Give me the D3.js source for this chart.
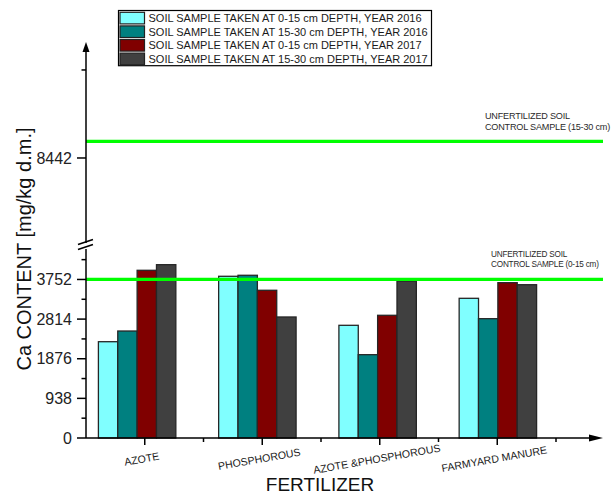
<!DOCTYPE html>
<html>
<head>
<meta charset="utf-8">
<script src="https://cdn.jsdelivr.net/npm/d3@7"></script>
<style>
  html, body { margin: 0; padding: 0; background: #fff; }
  svg { display: block; font-family: "Liberation Sans", Arial, sans-serif; }
</style>
</head>
<body>
<svg id="chart" width="616" height="495"></svg>
<script>
// Fertilizer treatments along the x axis
const categories = ["AZOTE", "PHOSPHOROUS", "AZOTE &PHOSPHOROUS", "FARMYARD MANURE"];

// Ca content [mg/kg d.m.] per series, one value per treatment
const series = [
  "SOIL SAMPLE TAKEN AT 0-15 cm DEPTH, YEAR 2016",
  "SOIL SAMPLE TAKEN AT 15-30 cm DEPTH, YEAR 2016",
  "SOIL SAMPLE TAKEN AT 0-15 cm DEPTH, YEAR 2017",
  "SOIL SAMPLE TAKEN AT 15-30 cm DEPTH, YEAR 2017"
];
const depth0_15_2016  = [2279, 3827, 2667, 3306];
const depth15_30_2016 = [2532, 3851, 1972, 2824];
const depth0_15_2017  = [3969, 3496, 2904, 3676];
const depth15_30_2017 = [4102, 2864, 3710, 3628];
const seriesValues = [depth0_15_2016, depth15_30_2016, depth0_15_2017, depth15_30_2017];
const seriesColors = ["#80ffff", "#008080", "#800000", "#404040"];

// Unfertilized control samples (horizontal reference lines)
const controlLabels = [
  ["UNFERTILIZED SOIL", "CONTROL SAMPLE (0-15 cm)"],
  ["UNFERTILIZED SOIL", "CONTROL SAMPLE (15-30 cm)"]
];
const controlValues = [3752, 8530];

// Tick values of the broken y axis
const lowerMajorTicks = [0, 938, 1876, 2814, 3752];
const lowerMinorTicks = [469, 1407, 2345, 3283, 4221];
const upperMajorTicks = [8442];
const upperMinorTicks = [8911];

const svg = d3.select("#chart");
const axisX = 86, baseY = 438, breakY = 246, topY = 42, rightX = 603;

// Broken y axis: a lower and an upper segment with their own scales
const yLow = d3.scaleLinear().domain([0, 4544]).range([baseY, breakY]);
const yUp  = d3.scaleLinear().domain([7973, 9060]).range([breakY, topY]);
const yAny = v => (v > 6000 ? yUp(v) : yLow(v));

// Axis ticks: categories at integer positions, minor ticks half-way
const x = d3.scaleLinear().domain([0.5, 1.5]).range([axisX, axisX + 117.5]);
// Bar groups
const xBand = d3.scaleBand().domain(categories).range([77, 558]).paddingInner(0.356).paddingOuter(0.178);
const xSub = d3.scaleBand().domain(d3.range(series.length)).range([0, xBand.bandwidth()]);

// Bars
const g = svg.append("g");
seriesValues.forEach((vals, si) => {
  g.selectAll(null)
    .data(vals)
    .join("rect")
    .attr("x", (d, i) => xBand(categories[i]) + xSub(si))
    .attr("y", d => yLow(d))
    .attr("width", xSub.bandwidth())
    .attr("height", d => yLow(0) - yLow(d))
    .attr("fill", seriesColors[si])
    .attr("stroke", "#262626")
    .attr("stroke-width", 1.3);
});

// Control lines
controlValues.forEach(v => {
  svg.append("line")
    .attr("x1", axisX).attr("x2", rightX)
    .attr("y1", yAny(v)).attr("y2", yAny(v))
    .attr("stroke", "#00ff00").attr("stroke-width", 3.2);
});
// Control labels
const ctrlPos = [
  { x: 491, y: yAny(controlValues[0]) - 22, fs: 8.2, lh: 10 },
  { x: 485, y: yAny(controlValues[1]) - 22.5, fs: 9.1, lh: 11 }
];
controlLabels.forEach((lines, i) => {
  const p = ctrlPos[i];
  const t = svg.append("text")
    .attr("x", p.x).attr("y", p.y)
    .attr("font-size", p.fs).attr("fill", "#2a2a2a")
    .attr("letter-spacing", -0.2);
  lines.forEach((s, k) => t.append("tspan").attr("x", p.x).attr("y", p.y + k * p.lh).text(s));
});

// Y axis line with a break
const axisG = svg.append("g").attr("stroke", "#000").attr("stroke-width", 1.5);
axisG.append("line").attr("x1", axisX).attr("x2", axisX).attr("y1", baseY).attr("y2", breakY + 3);
axisG.append("line").attr("x1", axisX).attr("x2", axisX).attr("y1", breakY - 3).attr("y2", topY + 6);
// break marks
axisG.append("line").attr("x1", axisX - 8).attr("y1", breakY + 3.5).attr("x2", axisX + 7).attr("y2", breakY - 1.5);
axisG.append("line").attr("x1", axisX - 8).attr("y1", breakY - 1.5).attr("x2", axisX + 7).attr("y2", breakY - 6.5);
// y arrow
svg.append("path")
  .attr("d", d3.line()([[axisX - 3.5, topY + 10], [axisX, topY], [axisX + 3.5, topY + 10]]) + "Z")
  .attr("fill", "#000");

// Y ticks
function yTicks(scale, vals, len, label) {
  vals.forEach(v => {
    const yy = scale(v);
    axisG.append("line").attr("x1", axisX - len).attr("x2", axisX).attr("y1", yy).attr("y2", yy);
    if (label) {
      svg.append("text")
        .attr("x", axisX - 14).attr("y", yy).attr("dy", "0.36em")
        .attr("text-anchor", "end").attr("font-size", 16).attr("fill", "#222")
        .text(d3.format("d")(v));
    }
  });
}
yTicks(yLow, lowerMajorTicks, 9, true);
yTicks(yLow, lowerMinorTicks, 4.5, false);
yTicks(yUp, upperMajorTicks, 9, true);
yTicks(yUp, upperMinorTicks, 4.5, false);

// X axis
axisG.append("line").attr("x1", axisX).attr("x2", rightX - 8).attr("y1", baseY).attr("y2", baseY);
svg.append("path")
  .attr("d", d3.line()([[rightX - 14, baseY - 3.5], [rightX, baseY], [rightX - 14, baseY + 3.5]]) + "Z")
  .attr("fill", "#000");
const xMajor = d3.range(1, categories.length + 1);
const xMinor = d3.range(1.5, categories.length + 1, 1);
xMajor.forEach(v => axisG.append("line").attr("x1", x(v)).attr("x2", x(v)).attr("y1", baseY).attr("y2", baseY + 7));
xMinor.forEach(v => axisG.append("line").attr("x1", x(v)).attr("x2", x(v)).attr("y1", baseY).attr("y2", baseY + 4));

// Category labels, slightly tilted
categories.forEach((c, i) => {
  const cx = x(i + 1) - 3, cy = 459;
  svg.append("text")
    .attr("transform", `translate(${cx},${cy}) rotate(-10)`)
    .attr("text-anchor", "middle").attr("dy", "0.35em")
    .attr("font-size", 10.6).attr("fill", "#1a1a1a")
    .text(c);
});

// Axis titles
svg.append("text")
  .attr("x", 320).attr("y", 484).attr("dy", "0.35em")
  .attr("text-anchor", "middle").attr("font-size", 19).attr("fill", "#111")
  .text("FERTILIZER");
svg.append("text")
  .attr("transform", "translate(24,249) rotate(-90)")
  .attr("text-anchor", "middle").attr("dy", "0.35em")
  .attr("font-size", 20).attr("fill", "#111")
  .text("Ca CONTENT [mg/kg d.m.]");

// Legend
const leg = svg.append("g");
const legX = 118.5, legY = 10.5, legW = 313, rowH = 13.6;
leg.append("rect")
  .attr("x", legX).attr("y", legY).attr("width", legW).attr("height", rowH * 4 + 0.8)
  .attr("fill", "#fff").attr("stroke", "#000").attr("stroke-width", 1.2);
series.forEach((s, i) => {
  const ry = legY + 1 + i * rowH;
  leg.append("rect")
    .attr("x", legX + 1.5).attr("y", ry + 0.8).attr("width", 24.5).attr("height", rowH - 2)
    .attr("fill", seriesColors[i]).attr("stroke", "#222").attr("stroke-width", 1.2);
  leg.append("text")
    .attr("x", legX + 30).attr("y", ry + rowH / 2).attr("dy", "0.36em")
    .attr("font-size", 11).attr("fill", "#1a1a1a")
    .text(s);
});
</script>
</body>
</html>
